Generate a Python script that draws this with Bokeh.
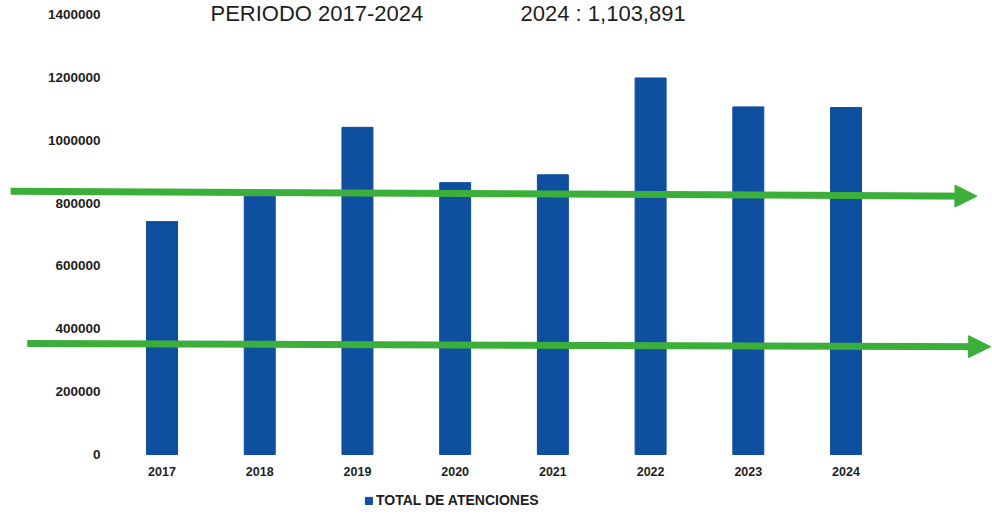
from bokeh.plotting import figure
from bokeh.models import (ColumnDataSource, Range1d, FixedTicker, Arrow, NormalHead,
                          Label, Legend, LegendItem)
from bokeh.embed import file_html
from bokeh.resources import INLINE

years = [2017, 2018, 2019, 2020, 2021, 2022, 2023, 2024]
atenciones = [741000, 822000, 1041000, 865000, 890000, 1198000, 1106000, 1103891]
y_ticks = [0, 200000, 400000, 600000, 800000, 1000000, 1200000, 1400000]
series_name = "TOTAL DE ATENCIONES"
title_left = "PERIODO 2017-2024"
title_right = "2024 : 1,103,891"

# trend arrows (start/end in data units: year, value)
arrow_x_start = [2015.45, 2015.62]
arrow_y_start = [838000, 353000]
arrow_x_end = [2025.34, 2025.48]
arrow_y_end = [822000, 343000]

BLUE = "#0f4f9f"
GREEN = "#3cae3a"
TXT = "#1e1e1e"

src = ColumnDataSource(dict(x=years, top=atenciones))

# the plotting frame covers the whole canvas; axes are pinned inside it
p = figure(width=992, height=515, output_backend="svg", toolbar_location=None,
           x_range=Range1d(2015.347, 2025.499), y_range=Range1d(-194091, 1444545),
           min_border_left=0, min_border_right=0, min_border_top=0, min_border_bottom=0)
p.outline_line_color = None
p.grid.visible = False
p.background_fill_color = "white"
p.border_fill_color = "white"

r = p.vbar(x="x", top="top", width=0.317, bottom=0, source=src, color=BLUE)

# axes
p.xaxis.ticker = FixedTicker(ticks=years)
p.yaxis.ticker = FixedTicker(ticks=y_ticks)
p.yaxis.formatter.use_scientific = False
p.yaxis.fixed_location = 2016.473
p.xaxis.fixed_location = 0
for ax in (p.xaxis[0], p.yaxis[0]):
    ax.axis_line_color = None
    ax.major_tick_line_color = None
    ax.minor_tick_line_color = None
    ax.major_tick_out = 0
    ax.major_tick_in = 0
    ax.major_label_text_color = TXT
    ax.major_label_text_font_style = "bold"
p.xaxis.major_label_text_font = "Liberation Sans"
p.xaxis.major_label_text_font_size = "12.5px"
p.xaxis.major_label_standoff = 13
p.yaxis.major_label_text_font = "Liberation Sans"
p.yaxis.major_label_text_font_size = "13.5px"
p.yaxis.major_label_standoff = 10

# arrows
for xs, ys, xe, ye in zip(arrow_x_start, arrow_y_start, arrow_x_end, arrow_y_end):
    p.add_layout(Arrow(x_start=xs, y_start=ys, x_end=xe, y_end=ye,
                       line_color=GREEN, line_width=7,
                       end=NormalHead(size=22, fill_color=GREEN, line_color=GREEN, line_width=1)))

# top texts
p.add_layout(Label(x=2017.496, y=1444000, text=title_left, text_baseline="top",
                   text_font="Liberation Sans", text_font_size="22px", text_color=TXT))
p.add_layout(Label(x=2020.669, y=1444000, text=title_right, text_baseline="top",
                   text_font="Liberation Sans", text_font_size="22px", text_color=TXT))

legend = Legend(items=[LegendItem(label=series_name, renderers=[r])],
                location=(364, 7), orientation="horizontal",
                border_line_color=None, background_fill_alpha=0,
                padding=0, margin=0, glyph_width=9, glyph_height=9,
                label_height=12, label_standoff=3,
                label_text_font="Liberation Sans", label_text_font_style="bold",
                label_text_font_size="14px", label_text_color=TXT)
p.add_layout(legend)

open("out.html", "w").write(file_html(p, INLINE))
